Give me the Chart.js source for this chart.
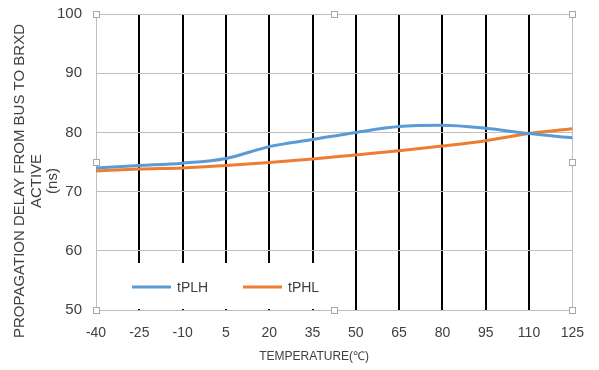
<!DOCTYPE html>
<html><head><meta charset="utf-8">
<script src="https://cdn.jsdelivr.net/npm/chart.js@4.4.1/dist/chart.umd.min.js"></script>
<style>html,body{margin:0;padding:0;background:#fff}#wrap{width:599px;height:370px}</style>
</head><body><div id="wrap"><canvas id="c" width="599" height="370"></canvas></div>
<script>
const temperatures = ['-40','-25','-10','5','20','35','50','65','80','95','110','125'];
const tPLH = [74.0, 74.4, 74.8, 75.6, 77.6, 78.8, 80.0, 81.0, 81.2, 80.7, 79.8, 79.1];
const tPHL = [73.5, 73.8, 74.0, 74.4, 74.9, 75.5, 76.2, 76.9, 77.7, 78.6, 79.8, 80.6];
const yTicks = [50, 60, 70, 80, 90, 100];
const seriesNames = ['tPLH', 'tPHL'];
const seriesColors = ['#5b9bd5', '#ed7d31'];
const xTitle = 'TEMPERATURE(℃)';
const yTitle = ['PROPAGATION DELAY FROM BUS TO BRXD', 'ACTIVE', '(ns)'];
const FONT = "'Liberation Sans', Arial, sans-serif";

const overlay = {
  id: 'overlay',
  beforeDatasetsDraw(chart) {
    const ctx = chart.ctx, a = chart.chartArea, x = chart.scales.x;
    const boxR = x.getPixelForValue(6) - 1;
    ctx.save();
    ctx.fillStyle = '#fff';
    ctx.fillRect(a.left + 1, a.bottom - 47, boxR - a.left - 1, 46);
    ctx.font = '14px ' + FONT;
    ctx.textBaseline = 'middle';
    const ly = a.bottom - 23;
    const starts = [a.left + 36, a.left + 147];
    seriesNames.forEach((n, i) => {
      ctx.strokeStyle = seriesColors[i];
      ctx.lineWidth = 3;
      ctx.beginPath();
      ctx.moveTo(starts[i], ly);
      ctx.lineTo(starts[i] + 39, ly);
      ctx.stroke();
      ctx.fillStyle = '#404040';
      ctx.fillText(n, starts[i] + 45, ly + 1);
    });
    ctx.restore();
  },
  afterDraw(chart) {
    const ctx = chart.ctx, a = chart.chartArea;
    const mx = a.left + (a.right - a.left) * 0.5;
    const my = (a.top + a.bottom) / 2;
    ctx.save();
    ctx.fillStyle = '#404040';
    ctx.textAlign = 'center';
    ctx.textBaseline = 'middle';
    ctx.font = '12px ' + FONT;
    ctx.fillText(xTitle, mx - 20, a.bottom + 47);
    // y axis title (rotated)
    ctx.save();
    ctx.font = '15px ' + FONT;
    ctx.translate(0, my + 19);
    ctx.rotate(-Math.PI / 2);
    const xs = [20, 37, 53];
    yTitle.forEach((t, i) => ctx.fillText(t, 0, xs[i]));
    ctx.restore();
    const pts = [[a.left,a.top],[mx,a.top],[a.right,a.top],[a.left,my],[a.right,my],[a.left,a.bottom],[mx,a.bottom],[a.right,a.bottom]];
    ctx.fillStyle = '#fff';
    ctx.strokeStyle = '#a6a6a6';
    ctx.lineWidth = 1;
    pts.forEach(p => {
      ctx.fillRect(Math.round(p[0]) - 3, Math.round(p[1]) - 3, 6, 6);
      ctx.strokeRect(Math.round(p[0]) - 3 + 0.5, Math.round(p[1]) - 3 + 0.5, 6, 6);
    });
    ctx.restore();
  }
};

new Chart(document.getElementById('c'), {
  type: 'line',
  data: {
    labels: temperatures,
    datasets: [
      { label: seriesNames[0], data: tPLH, borderColor: seriesColors[0], backgroundColor: seriesColors[0], borderWidth: 3, pointRadius: 0, tension: 0.4, cubicInterpolationMode: 'monotone' },
      { label: seriesNames[1], data: tPHL, borderColor: seriesColors[1], backgroundColor: seriesColors[1], borderWidth: 3, pointRadius: 0, tension: 0.4, cubicInterpolationMode: 'monotone' }
    ]
  },
  options: {
    responsive: false,
    animation: false,
    layout: { padding: { left: 0, right: 26, top: 14, bottom: 0 } },
    plugins: { legend: { display: false }, tooltip: { enabled: false } },
    scales: {
      x: {
        type: 'category',
        offset: false,
        afterFit(s) { s.height = 60; },
        grid: {
          drawTicks: false,
          color: c => (c.index === 0 || c.index === temperatures.length - 1) ? '#bfbfbf' : '#000',
          lineWidth: c => (c.index === 0 || c.index === temperatures.length - 1) ? 1 : 2
        },
        border: { color: '#bfbfbf', width: 1 },
        ticks: { color: '#404040', font: { family: FONT, size: 14 }, padding: 15, maxRotation: 0, autoSkip: false },
        title: { display: false }
      },
      y: {
        min: 50, max: 100,
        afterFit(s) { s.width = 96; s.paddingTop = 0; s.paddingBottom = 0; },
        afterBuildTicks(s) { s.ticks = yTicks.map(v => ({ value: v })); },
        grid: { drawTicks: false, color: '#bfbfbf', lineWidth: 1 },
        border: { color: '#bfbfbf', width: 1 },
        ticks: { color: '#404040', font: { family: FONT, size: 15 }, padding: 14 },
        title: { display: false }
      }
    }
  },
  plugins: [overlay]
});
</script></body></html>
